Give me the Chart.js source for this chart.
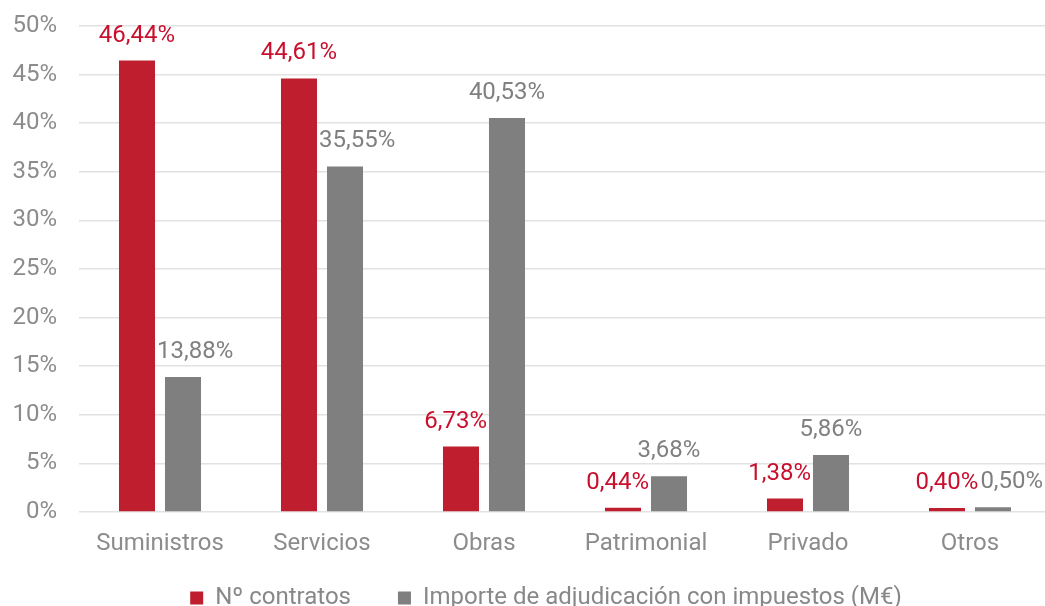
<!DOCTYPE html>
<html><head><meta charset="utf-8">
<script src="https://cdn.jsdelivr.net/npm/chart.js@4/dist/chart.umd.min.js"></script>
<style>html,body{margin:0;padding:0;overflow:hidden;background:#fff}#wrap{width:1051px;height:606px}</style>
</head><body><div id="wrap"><canvas id="c" width="1051" height="606"></canvas></div>
<script>
const categories = ['Suministros','Servicios','Obras','Patrimonial','Privado','Otros'];
const contratos = [46.44, 44.61, 6.73, 0.44, 1.38, 0.40];
const importe = [13.88, 35.55, 40.53, 3.68, 5.86, 0.50];
const seriesNames = ['Nº contratos', 'Importe de adjudicación con impuestos (M€)'];
const yTickValues = [0, 5, 10, 15, 20, 25, 30, 35, 40, 45, 50];

const RED = '#BE1E2D';
const GRAY = '#7F7F7F';
const LABEL_RED = '#C8102E';
const LABEL_GRAY = '#808080';
const TICK = '#8C8C8C';
const FONT = 'Roboto';
const FS = 24;

const fmt = v => v.toFixed(2).replace('.', ',') + '%';

// Value labels above bars, nudged sideways to avoid colliding with a taller neighbour bar or label
const valueLabels = {
  id: 'valueLabels',
  afterDatasetsDraw(chart) {
    const ctx = chart.ctx;
    const G = 2, OFF = 25, HALF = 10;
    ctx.save();
    ctx.font = FS + 'px ' + FONT;
    ctx.textAlign = 'center';
    ctx.textBaseline = 'middle';
    const m0 = chart.getDatasetMeta(0), m1 = chart.getDatasetMeta(1);
    const ds = chart.data.datasets;
    m0.data.forEach((b0, i) => {
      const b1 = m1.data[i];
      const t0 = fmt(ds[0].data[i]), t1 = fmt(ds[1].data[i]);
      const w0 = ctx.measureText(t0).width, w1 = ctx.measureText(t1).width;
      let c0 = b0.x, c1 = b1.x;
      const y0 = b0.y - OFF, y1 = b1.y - OFF;
      if (b1.y < y0 + HALF) {
        const lim = b1.x - b1.width / 2 - G;
        if (c0 + w0 / 2 > lim) c0 = lim - w0 / 2;
      }
      if (b0.y < y1 + HALF) {
        const lim = b0.x + b0.width / 2 + G;
        if (c1 - w1 / 2 < lim) c1 = lim + w1 / 2;
      }
      if (Math.abs(y0 - y1) < 2 * HALF) {
        const lim = c0 + w0 / 2 + G;
        if (c1 - w1 / 2 < lim) c1 = lim + w1 / 2;
      }
      ctx.fillStyle = LABEL_RED;
      ctx.fillText(t0, c0, y0);
      ctx.fillStyle = LABEL_GRAY;
      ctx.fillText(t1, c1, y1);
    });
    ctx.restore();
  }
};

const legendShift = {
  id: 'legendShift',
  afterLayout(chart) {
    const l = chart.legend;
    l.left += 41;
    l.top -= 19;
  }
};

new Chart(document.getElementById('c'), {
  type: 'bar',
  data: {
    labels: categories,
    datasets: [
      { label: seriesNames[0], data: contratos, backgroundColor: RED },
      { label: seriesNames[1], data: importe, backgroundColor: GRAY }
    ]
  },
  options: {
    responsive: false,
    animation: false,
    devicePixelRatio: 1,
    categoryPercentage: 0.568,
    barPercentage: 0.783,
    layout: { padding: { top: 26, right: 0, left: 0, bottom: 0 } },
    plugins: {
      tooltip: { enabled: false },
      legend: {
        position: 'bottom',
        maxHeight: 48,
        labels: {
          boxWidth: 13, boxHeight: 13, padding: 47,
          color: '#888888',
          font: { family: FONT, size: FS }
        }
      }
    },
    scales: {
      x: {
        grid: { display: false, drawTicks: false },
        border: { display: false },
        ticks: { color: TICK, font: { family: FONT, size: FS }, padding: 18, maxRotation: 0 },
        afterFit(s) { s.height = 46; }
      },
      y: {
        min: 0, max: 50,
        afterBuildTicks(s) { s.ticks = yTickValues.map(v => ({ value: v })); },
        grid: { color: '#E2E2E2', lineWidth: 1.5, drawTicks: false },
        border: { display: false },
        ticks: { color: TICK, font: { family: FONT, size: FS }, padding: 22, callback: v => v + '%' },
        afterFit(s) { s.width = 79; s.paddingTop = 0; s.paddingBottom = 0; }
      }
    }
  },
  plugins: [valueLabels, legendShift]
});
</script>
</body></html>
